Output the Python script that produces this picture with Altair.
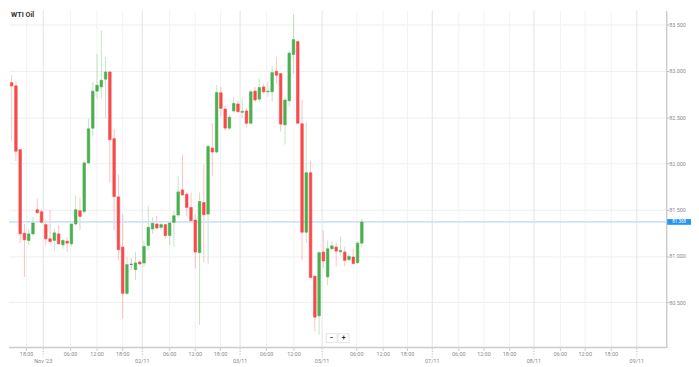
import altair as alt
import pandas as pd

# ---- data (hourly candles) ----
opens = [82.874, 82.839, 82.150, 81.246, 81.168, 81.239, 81.500, 81.478, 81.339, 81.186,
         81.168, 81.239, 81.121, 81.160, 81.132, 81.346, 81.489, 81.482, 82.006, 82.381,
         82.782, 82.828, 82.911, 82.989, 82.268, 81.639, 81.096, 80.596, 80.910, 80.853,
         80.935, 80.924, 81.114, 81.293, 81.346, 81.310, 81.339, 81.221, 81.364, 81.443,
         81.714, 81.668, 81.525, 81.389, 81.036, 81.578, 81.453, 82.167, 82.124, 82.764,
         82.589, 82.382, 82.568, 82.643, 82.553, 82.568, 82.435, 82.782, 82.696, 82.828,
         82.775, 82.775, 82.996, 82.971, 82.418, 82.678, 83.178, 83.318, 82.429, 81.257,
         81.900, 80.782, 80.353, 81.043, 80.774, 81.078, 81.096, 81.046, 81.043, 80.960,
         80.989, 80.928, 81.139]
highs = [82.954, 82.892, 82.150, 81.346, 81.293, 81.425, 81.625, 81.500, 81.389, 81.500,
         81.293, 81.336, 81.186, 81.203, 81.346, 81.650, 81.632, 82.030, 82.482, 82.882,
         83.185, 83.436, 83.150, 83.000, 82.375, 81.882, 81.453, 80.989, 80.978, 81.043,
         80.950, 81.167, 81.543, 81.417, 81.435, 81.360, 81.350, 81.370, 81.489, 81.864,
         82.097, 81.690, 81.685, 81.453, 81.685, 81.989, 82.200, 82.435, 82.846, 82.828,
         82.632, 82.525, 82.721, 82.680, 82.703, 82.600, 82.800, 82.828, 82.917, 82.860,
         82.882, 83.053, 83.150, 82.975, 82.721, 83.210, 83.614, 83.330, 82.686, 82.446,
         82.025, 80.790, 81.050, 81.275, 81.167, 81.160, 81.150, 81.210, 81.100, 81.020,
         81.078, 81.160, 81.400]
lows = [82.239, 82.025, 81.139, 80.774, 81.114, 81.221, 81.460, 81.346, 81.114, 81.139,
        81.060, 81.121, 81.078, 81.043, 81.103, 81.328, 81.282, 81.460, 82.000, 82.292,
        82.703, 82.703, 82.489, 81.792, 81.275, 80.953, 80.329, 80.578, 80.846, 80.739,
        80.900, 80.882, 81.060, 81.239, 81.290, 81.280, 81.186, 81.114, 81.096, 81.417,
        81.650, 81.435, 81.370, 80.864, 80.257, 80.935, 80.918, 81.864, 82.110, 82.507,
        82.354, 82.360, 82.550, 82.550, 82.489, 82.389, 82.420, 82.660, 82.670, 82.750,
        82.721, 82.668, 82.864, 82.346, 82.204, 82.614, 82.971, 82.430, 80.960, 81.139,
        80.760, 80.185, 80.150, 80.864, 80.685, 81.070, 80.882, 81.007, 80.889, 80.950,
        80.910, 80.910, 81.096]
closes = [82.839, 82.132, 81.239, 81.175, 81.239, 81.357, 81.468, 81.364, 81.186, 81.157,
          81.250, 81.132, 81.168, 81.139, 81.346, 81.500, 81.428, 82.006, 82.375, 82.782,
          82.846, 82.900, 82.989, 82.257, 81.642, 81.068, 80.596, 80.907, 80.910, 80.925,
          80.914, 81.103, 81.310, 81.353, 81.303, 81.340, 81.221, 81.357, 81.435, 81.693,
          81.660, 81.525, 81.382, 81.043, 81.589, 81.446, 82.185, 82.124, 82.767, 82.596,
          82.382, 82.500, 82.649, 82.560, 82.564, 82.435, 82.775, 82.686, 82.821, 82.775,
          82.782, 82.982, 82.954, 82.425, 82.686, 83.193, 83.339, 82.435, 81.257, 81.900,
          80.768, 80.339, 81.036, 80.946, 81.078, 81.110, 81.053, 81.060, 80.953, 80.996,
          80.918, 81.139, 81.368]

time_tick_pos = [3.5, 13.8, 20.0, 26.0, 37.0, 43.0, 48.9, 59.7, 66.1, 80.8, 87.0, 92.7,
                 104.7, 110.6, 116.6, 128.5, 134.3, 140.4]
time_tick_labels = ["18:00", "06:00", "12:00", "18:00", "06:00", "12:00", "18:00", "06:00",
                    "12:00", "06:00", "12:00", "18:00", "06:00", "12:00", "18:00", "06:00",
                    "12:00", "18:00"]
date_tick_pos = [7.4, 30.6, 53.5, 72.7, 98.5, 122.3, 146.4]
date_tick_labels = ["Nov '23", "02/11", "03/11", "05/11", "07/11", "08/11", "09/11"]
y_ticks = [80.5, 81.0, 81.5, 82.0, 82.5, 83.0, 83.5]
last_price = 81.368
chart_title = "WTI Oil"
buttons = ["−", "+"]

# ---- layout / style ----
W, H = 663, 340
FONT = "Roboto"
UP, DOWN, FLAT = "#4caf50", "#f84a4a", "#555555"

rows = []
for i, (o, h, l, c) in enumerate(zip(opens, highs, lows, closes)):
    d = "up" if c > o else ("down" if c < o else "flat")
    rows.append({"slot": i, "open": o, "high": h, "low": l, "close": c, "dir": d})
candles = pd.DataFrame(rows)
tticks = pd.DataFrame({"pos": time_tick_pos, "label": time_tick_labels})
dticks = pd.DataFrame({"pos": date_tick_pos, "label": date_tick_labels})
price_df = pd.DataFrame({"price": [last_price]})
title_df = pd.DataFrame({"t": [chart_title]})

xs = alt.Scale(domain=[-0.62, 153.28], nice=False, zero=False, padding=0)
ys = alt.Scale(domain=[80.010, 83.653], nice=False, zero=False, padding=0)
cs = alt.Scale(domain=["up", "down", "flat"], range=[UP, DOWN, FLAT])

y_axis = alt.Axis(
    orient="right", values=y_ticks, format=".3f", title=None,
    domain=True, domainColor="#cccccc", domainWidth=1.5,
    ticks=True, tickSize=2, tickColor="#aaaaaa",
    labelFontSize=5.5, labelColor="#8a8a8a", labelFont=FONT, labelPadding=0.5,
    grid=True, gridColor="#efefef", gridWidth=1)

vgrid_t = alt.Chart(tticks).mark_rule(color="#f3f3f3", strokeWidth=1).encode(
    x=alt.X("pos:Q", scale=xs, axis=None), y=alt.value(0), y2=alt.value(H))
vgrid_d = alt.Chart(dticks).mark_rule(color="#e3e3e3", strokeWidth=1).encode(
    x=alt.X("pos:Q", scale=xs, axis=None), y=alt.value(0), y2=alt.value(H))

wicks = alt.Chart(candles).mark_rule(strokeWidth=1, opacity=0.33).encode(
    x=alt.X("slot:Q", scale=xs, axis=None),
    y=alt.Y("high:Q", scale=ys, axis=y_axis),
    y2="low:Q",
    color=alt.Color("dir:N", scale=cs, legend=None))

price_line = alt.Chart(price_df).mark_rule(color="#cde4f7", strokeWidth=1.8).encode(
    y=alt.Y("price:Q", scale=ys, axis=y_axis), x=alt.value(0), x2=alt.value(W))

bodies = alt.Chart(candles).mark_bar(size=2.6, strokeWidth=0.6).encode(
    x=alt.X("slot:Q", scale=xs, axis=None),
    y=alt.Y("open:Q", scale=ys, axis=y_axis),
    y2="close:Q",
    color=alt.Color("dir:N", scale=cs, legend=None),
    stroke=alt.Stroke("dir:N", scale=cs, legend=None))

price_box = alt.Chart(price_df).mark_point(
    shape="M-1,-0.24L1,-0.24L1,0.24L-1,0.24Z", filled=True, opacity=1,
    size=576, color="#2196f3", strokeWidth=0).encode(
    x=alt.value(W + 13), y=alt.Y("price:Q", scale=ys, axis=y_axis))
price_txt = alt.Chart(price_df).mark_text(
    color="white", fontSize=4.5, font=FONT, align="center", baseline="middle").encode(
    x=alt.value(W + 13), y=alt.Y("price:Q", scale=ys, axis=y_axis),
    text=alt.Text("price:Q", format=".3f"))

xline = alt.Chart(price_df).mark_rule(color="#cccccc", strokeWidth=1.5).encode(
    x=alt.value(0), x2=alt.value(W), y=alt.value(H))

tick_t = alt.Chart(tticks).mark_rule(color="#aaaaaa", strokeWidth=0.8).encode(
    x=alt.X("pos:Q", scale=xs, axis=None), y=alt.value(H + 1), y2=alt.value(H + 3))
tick_d = alt.Chart(dticks).mark_rule(color="#999999", strokeWidth=0.8, strokeDash=[1, 1.5]).encode(
    x=alt.X("pos:Q", scale=xs, axis=None), y=alt.value(H + 1), y2=alt.value(H + 9))

lab_t = alt.Chart(tticks).mark_text(
    fontSize=5.5, font=FONT, color="#8a8a8a", align="center", baseline="middle").encode(
    x=alt.X("pos:Q", scale=xs, axis=None), y=alt.value(H + 6.5), text="label:N")
lab_d = alt.Chart(dticks).mark_text(
    fontSize=5.5, font=FONT, color="#8a8a8a", align="center", baseline="middle").encode(
    x=alt.X("pos:Q", scale=xs, axis=None), y=alt.value(H + 13.7), text="label:N")

title = alt.Chart(title_df).mark_text(
    fontSize=7.2, font=FONT, fontWeight="bold", color="#333333",
    align="left", baseline="middle").encode(
    x=alt.value(2), y=alt.value(4), text="t:N")

btn_df1 = pd.DataFrame({"b": [buttons[0]]})
btn_df2 = pd.DataFrame({"b": [buttons[1]]})
btn1 = alt.Chart(btn_df1).mark_rect(fill="white", stroke="#dddddd", strokeWidth=0.8).encode(
    x=alt.value(320), x2=alt.value(331), y=alt.value(326), y2=alt.value(335))
btn2 = alt.Chart(btn_df2).mark_rect(fill="white", stroke="#dddddd", strokeWidth=0.8).encode(
    x=alt.value(332), x2=alt.value(343), y=alt.value(326), y2=alt.value(335))
btn1t = alt.Chart(btn_df1).mark_text(fontSize=7, font=FONT, fontWeight="bold", color="#333333",
                                     align="center", baseline="middle").encode(
    x=alt.value(325.5), y=alt.value(330.5), text="b:N")
btn2t = alt.Chart(btn_df2).mark_text(fontSize=7, font=FONT, fontWeight="bold", color="#333333",
                                     align="center", baseline="middle").encode(
    x=alt.value(337.5), y=alt.value(330.5), text="b:N")

chart = alt.layer(
    vgrid_t, vgrid_d, wicks, price_line, bodies, price_box, price_txt,
    xline, tick_t, tick_d, lab_t, lab_d, title, btn1, btn2, btn1t, btn2t
).properties(width=W, height=H, padding=0, background="white").configure_view(strokeWidth=0)

chart.save("out.html", embed_options={"renderer": "svg", "actions": False})
